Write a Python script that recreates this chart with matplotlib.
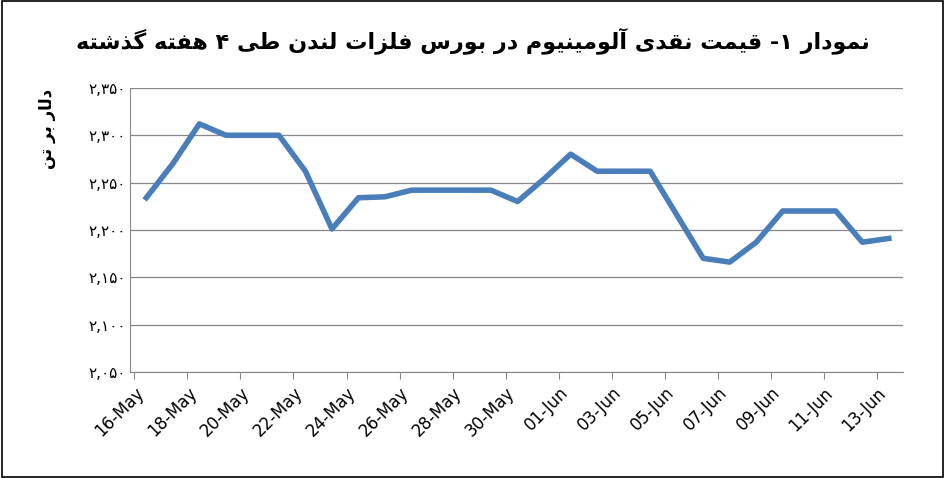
import matplotlib
matplotlib.use("Agg")
import matplotlib.pyplot as plt
import numpy as np

dates = ["16-May","17-May","18-May","19-May","20-May","21-May","22-May","23-May","24-May","25-May",
         "26-May","27-May","28-May","29-May","30-May","31-May","01-Jun","02-Jun","03-Jun","04-Jun",
         "05-Jun","06-Jun","07-Jun","08-Jun","09-Jun","10-Jun","11-Jun","12-Jun","13-Jun"]
prices = [2234,2270,2312,2300,2300,2300,2262,2201,2234,2235,2242,2242,2242,2242,2230,2254,2280,
          2262,2262,2262,2216,2170,2166,2187,2220,2220,2220,2187,2191]
yticks = [2050,2100,2150,2200,2250,2300,2350]
ytick_labels = ["۲,۰۵۰","۲,۱۰۰","۲,۱۵۰","۲,۲۰۰","۲,۲۵۰","۲,۳۰۰","۲,۳۵۰"]
title_text = "نمودار ۱- قیمت نقدی آلومینیوم در بورس فلزات لندن طی ۴ هفته گذشته"
ylabel_text = "دلار بر تن"

FORMS = {  # isolated, final, initial, medial
 'ا':(0xFE8D,0xFE8E,None,None),'آ':(0xFE81,0xFE82,None,None),
 'ب':(0xFE8F,0xFE90,0xFE91,0xFE92),'ت':(0xFE95,0xFE96,0xFE97,0xFE98),
 'د':(0xFEA9,0xFEAA,None,None),'ذ':(0xFEAB,0xFEAC,None,None),
 'ر':(0xFEAD,0xFEAE,None,None),'ز':(0xFEAF,0xFEB0,None,None),
 'س':(0xFEB1,0xFEB2,0xFEB3,0xFEB4),'ش':(0xFEB5,0xFEB6,0xFEB7,0xFEB8),
 'ط':(0xFEC1,0xFEC2,0xFEC3,0xFEC4),'ف':(0xFED1,0xFED2,0xFED3,0xFED4),
 'ق':(0xFED5,0xFED6,0xFED7,0xFED8),'ل':(0xFEDD,0xFEDE,0xFEDF,0xFEE0),
 'م':(0xFEE1,0xFEE2,0xFEE3,0xFEE4),'ن':(0xFEE5,0xFEE6,0xFEE7,0xFEE8),
 'ه':(0xFEE9,0xFEEA,0xFEEB,0xFEEC),'و':(0xFEED,0xFEEE,None,None),
 'ی':(0xFBFC,0xFBFD,0xFBFE,0xFBFF),'گ':(0xFB92,0xFB93,0xFB94,0xFB95),
}
def dual(c):
    return c in FORMS and FORMS[c][2] is not None
def shape(s):
    out = []
    for i, c in enumerate(s):
        if c not in FORMS:
            out.append(c); continue
        prev = s[i-1] if i > 0 else ''
        nxt = s[i+1] if i+1 < len(s) else ''
        jp = dual(prev)
        jn = dual(c) and nxt in FORMS
        f = FORMS[c]
        if jp and jn: code = f[3]
        elif jp: code = f[1]
        elif jn: code = f[2]
        else: code = f[0]
        out.append(chr(code))
    return ''.join(out)[::-1]

plt.rcParams['font.family'] = ['DejaVu Sans']
fig = plt.figure(figsize=(9.45, 4.78), dpi=100)
fig.patches.append(plt.Rectangle((0.002,0.002),0.996,0.996,transform=fig.transFigure,
                                 fill=False,edgecolor='black',linewidth=1.2))
ax = fig.add_axes([0.138, 0.222, 0.818, 0.594])
x = np.arange(len(prices)) + 0.45
ax.plot(x, prices, color='#4a7ebb', linewidth=4, solid_joinstyle='round')
ax.set_xlim(-0.15, 29.0)
ax.set_ylim(2050, 2350)
ax.set_yticks(yticks)
ax.set_yticklabels(ytick_labels, fontsize=11)
tick_pos = np.arange(0, len(dates), 2)
ax.set_xticks(tick_pos)
ax.set_xticklabels([dates[i] for i in tick_pos], rotation=45, ha='right',
                   rotation_mode='anchor', fontsize=12)
ax.grid(axis='y', color='#878787', linewidth=0.9)
ax.set_axisbelow(True)
for s in ['top','right']:
    ax.spines[s].set_visible(False)
ax.spines['left'].set_color('#878787')
ax.spines['bottom'].set_color('#878787')
ax.tick_params(axis='both', color='#878787', length=5)
ax.tick_params(axis='y', length=0)
fig.text(0.5, 0.915, shape(title_text), ha='center', va='center', fontsize=16, fontweight='bold')
fig.text(0.05, 0.73, shape(ylabel_text), ha='center', va='center', fontsize=12,
         fontweight='bold', rotation=90)
fig.savefig('out.png', dpi=100)
